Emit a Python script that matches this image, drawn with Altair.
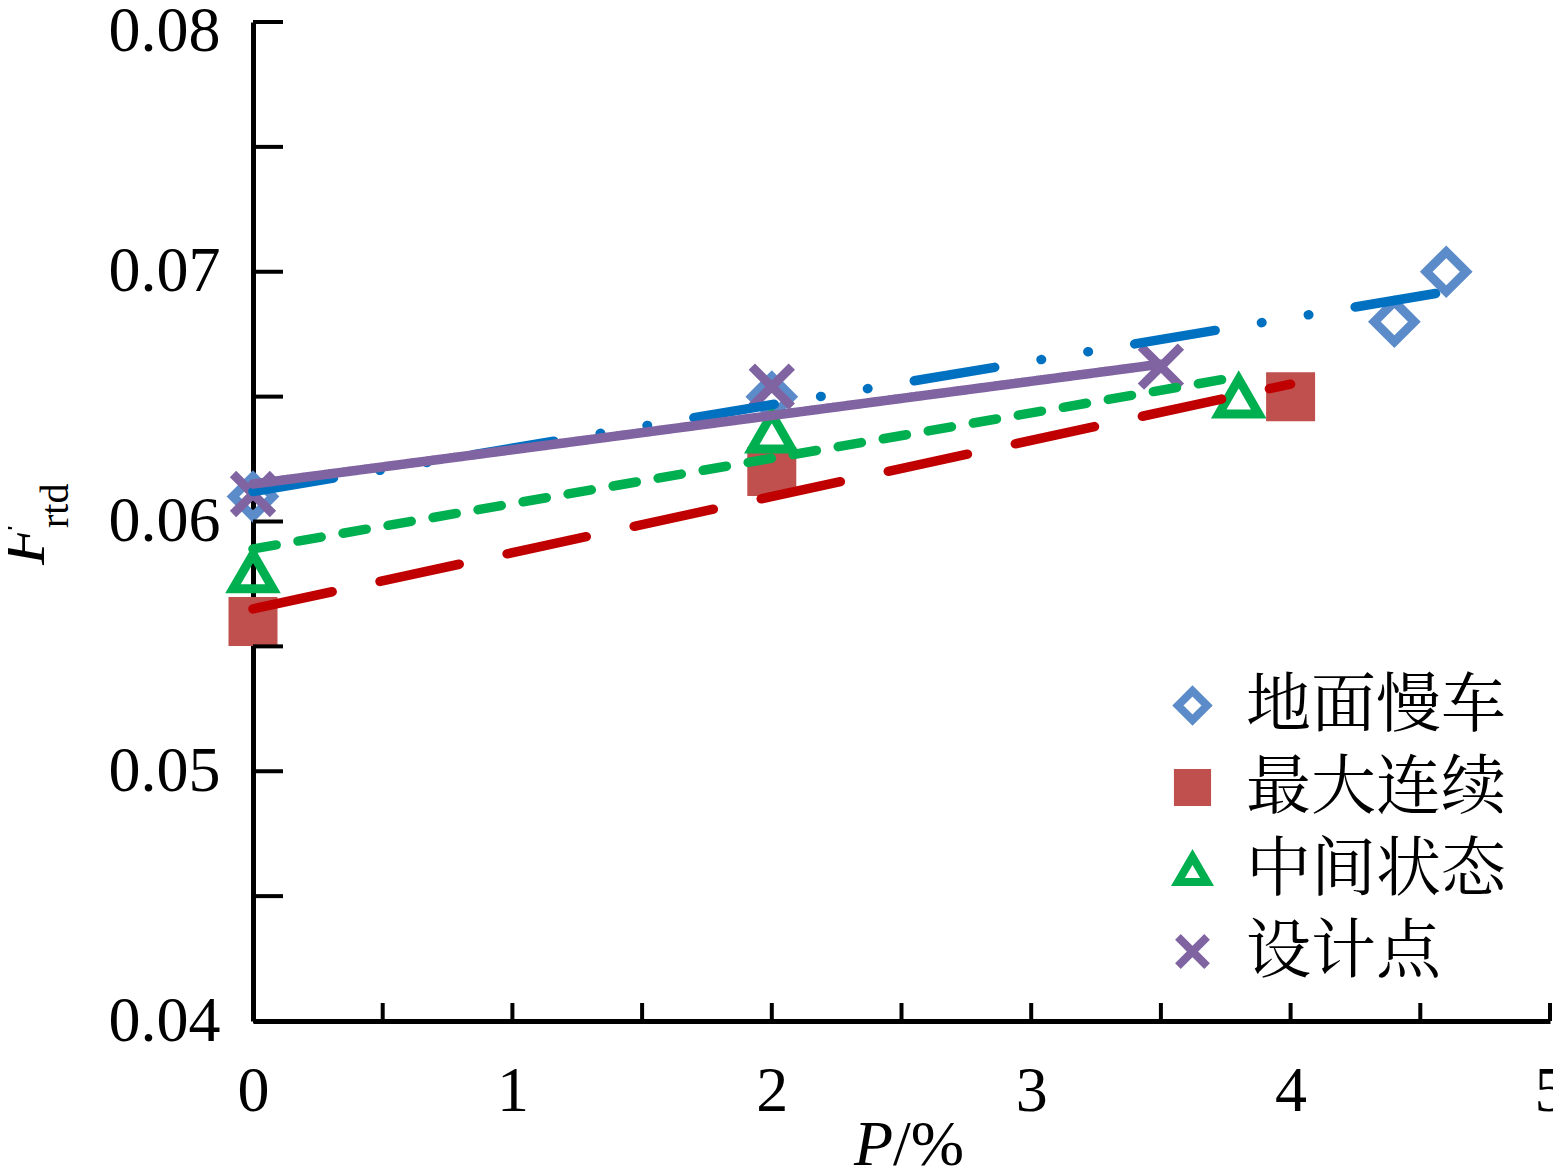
import altair as alt
import pandas as pd

# ---------------- data ----------------
series = ["地面慢车", "最大连续", "中间状态", "设计点"]

x_idle = [0, 2, 4.4, 4.6]
y_idle = [0.0610, 0.0650, 0.0680, 0.0700]
x_max = [0, 2, 4]
y_max = [0.0560, 0.0620, 0.0650]
x_mid = [0, 2, 3.8]
y_mid = [0.0580, 0.0636, 0.0650]
x_des = [0, 2, 3.5]
y_des = [0.0611, 0.0654, 0.0662]

# trend line end points
tx_idle = [0, 4.6]
ty_idle = [0.0612, 0.0692]
tx_max = [0, 4.0]
ty_max = [0.0565, 0.0655]
tx_mid = [0, 3.8]
ty_mid = [0.0589, 0.0658]
tx_des = [0, 3.5]
ty_des = [0.0615, 0.0663]

x_ticks = [0, 0.5, 1, 1.5, 2, 2.5, 3, 3.5, 4, 4.5, 5]
x_labels = [0, 1, 2, 3, 4, 5]
y_ticks = [0.04, 0.045, 0.05, 0.055, 0.06, 0.065, 0.07, 0.075, 0.08]
y_labels = [0.04, 0.05, 0.06, 0.07, 0.08]

# ---------------- styles ----------------
marker_stroke = ["#5b8bc9", "#c0504d", "#00b050", "#8064a2"]
marker_fill = ["transparent", "#c0504d", "transparent", "transparent"]
shapes = ["diamond", "square", "triangle-up", "M-1,-1L1,1M1,-1L-1,1"]
line_colors = ["#0070c0", "#c00000", "#00b050", "#8064a2"]
line_dashes = [[81.5, 47, 0.5, 47, 0.5, 47], [81, 49], [23.5, 22.2], [1, 0]]

serif = "Liberation Serif"
cjk = "Noto Serif CJK SC, SimSun, Noto Sans CJK SC"

rows = []
for name, xs_, ys_ in zip(series, [x_idle, x_max, x_mid, x_des], [y_idle, y_max, y_mid, y_des]):
    for a, b in zip(xs_, ys_):
        rows.append({"s": name, "P": a, "F": b})
pts = pd.DataFrame(rows)

trows = []
for name, xs_, ys_ in zip(series, [tx_idle, tx_max, tx_mid, tx_des], [ty_idle, ty_max, ty_mid, ty_des]):
    for a, b in zip(xs_, ys_):
        trows.append({"s": name, "P": a, "F": b})
trend = pd.DataFrame(trows)

W, H = 1297, 999
xs = alt.Scale(domain=[0, 5], nice=False, zero=False)
ys = alt.Scale(domain=[0.04, 0.08], nice=False, zero=False)

x_axis = alt.Axis(
    values=x_labels, format="d", title=None, ticks=False, tickSize=0,
    labelFont=serif, labelFontSize=64, labelColor="black",
    labelBaseline="alphabetic", labelPadding=89,
    domainColor="black", domainWidth=5, grid=False, labelFlush=False,
)
y_axis = alt.Axis(
    values=y_labels, format=".2f", title=None, ticks=False, tickSize=0,
    labelFont=serif, labelFontSize=64, labelColor="black",
    labelPadding=33, domainColor="black", domainWidth=5, grid=False,
    labelFlush=False,
    labelOffset={"condition": {"test": "datum.value >= 0.079", "value": 9}, "value": 0},
)

leg = alt.Legend(
    orient="none", legendX=907, legendY=651, title=None,
    labelFont=cjk, labelFontSize=65, labelColor="black", labelLimit=0,
    symbolSize=850, symbolStrokeWidth=8, labelOffset=21, rowPadding=16, padding=0,
)

points = alt.Chart(pts).mark_point(
    size=1600, strokeWidth=9, filled=True, opacity=1, fillOpacity=1, strokeOpacity=1
).encode(
    x=alt.X("P:Q", scale=xs, axis=x_axis, title=None),
    y=alt.Y("F:Q", scale=ys, axis=y_axis, title=None),
    shape=alt.Shape("s:N", scale=alt.Scale(domain=series, range=shapes), legend=leg),
    stroke=alt.Stroke("s:N", scale=alt.Scale(domain=series, range=marker_stroke), legend=leg),
    fill=alt.Fill("s:N", scale=alt.Scale(domain=series, range=marker_fill), legend=leg),
)

lines = []
for name, col, dash in zip(series, line_colors, line_dashes):
    lines.append(
        alt.Chart(trend).transform_filter(alt.datum.s == name).mark_line(
            color=col, strokeWidth=9.5, strokeDash=dash, strokeCap="round"
        ).encode(
            x=alt.X("P:Q", scale=xs, axis=x_axis, title=None),
            y=alt.Y("F:Q", scale=ys, axis=y_axis, title=None),
        )
    )

xtick = alt.Chart(pd.DataFrame({"P": x_ticks})).mark_rule(color="black", strokeWidth=4).encode(
    x=alt.X("P:Q", scale=xs, axis=x_axis, title=None),
    y=alt.value(H - 18), y2=alt.value(H),
)
ytick = alt.Chart(pd.DataFrame({"F": y_ticks})).mark_rule(color="black", strokeWidth=4).encode(
    y=alt.Y("F:Q", scale=ys, axis=y_axis, title=None),
    x=alt.value(0), x2=alt.value(30),
)

def label(txt, x, y, size=64, style="normal", angle=0, align="left"):
    return alt.Chart(pd.DataFrame({"t": [txt]})).mark_text(
        font=serif, fontSize=size, fontStyle=style, color="black",
        align=align, baseline="alphabetic", angle=angle,
    ).encode(text="t:N", x=alt.value(x), y=alt.value(y))

xt_P = label("P", 640, 1143, style="italic", align="right")
xt_pc = label("/%", 640, 1143)
yt_F = label("F", -209, 543, style="italic", angle=270)
yt_sub = label("rtd", -185, 506, size=40, angle=270)

chart = alt.layer(points, *lines, xtick, ytick, xt_P, xt_pc, yt_F, yt_sub).properties(
    width=W, height=H,
    autosize=alt.AutoSizeParams(type="none"),
    padding={"left": 245, "top": 14, "right": 3, "bottom": 147},
).configure_view(stroke=None)

chart.save("out.html", embed_options={"renderer": "svg", "actions": False})
